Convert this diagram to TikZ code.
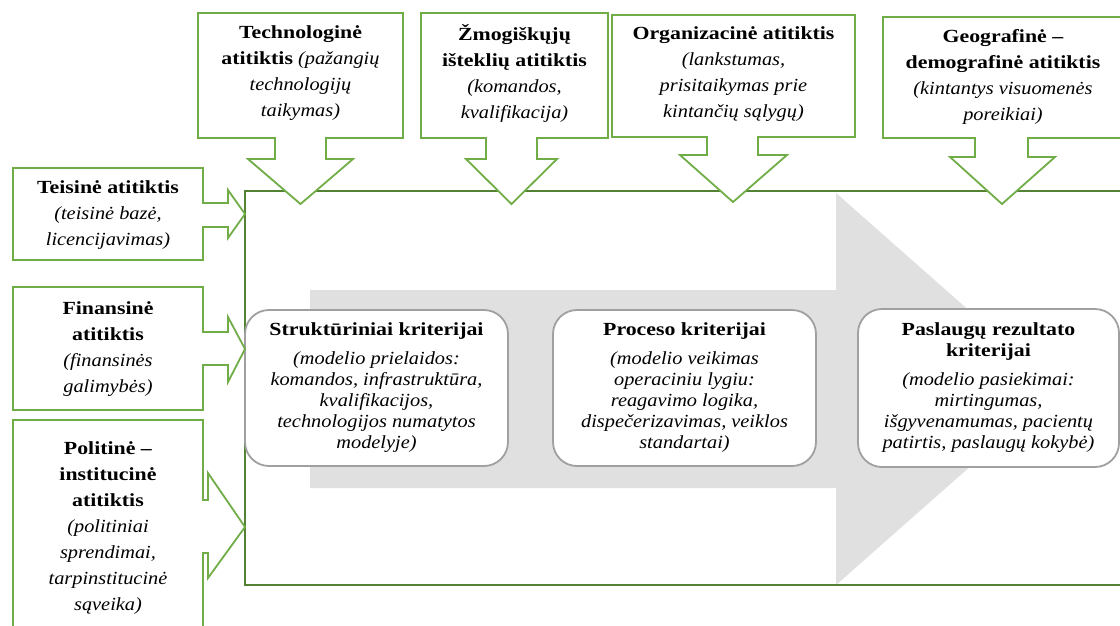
\documentclass[tikz,border=0pt]{standalone}
\usepackage{fontspec}
\setmainfont[FakeStretch=1.1, BoldFeatures={FakeStretch=1.18}]{Liberation Serif}
\definecolor{zalia}{RGB}{112,173,71}
\definecolor{tamsizalia}{RGB}{84,130,53}
\definecolor{pilka}{RGB}{224,224,224}
\definecolor{kontur}{RGB}{160,160,160}
\tikzset{
  isnasa/.style={draw=zalia, line width=1.8pt, fill=white, line join=miter},
  isntekstas/.style={align=center, inner sep=0pt, font=\fontsize{18.5}{26}\selectfont},
  kriterijus/.style={draw=kontur, line width=1.8pt, fill=white, rounded corners=24pt,
    align=center, inner sep=0pt, font=\fontsize{18.5}{21}\selectfont},
}

\begin{document}
\begin{tikzpicture}[x=1pt, y=-1pt]
        \useasboundingbox (0,0) rectangle (1120,625);
        \clip (0,0) rectangle (1120,625);
        % Pilka rodyklė fone
        \fill[pilka] (310,290) -- (836,290) -- (836,193) -- (1058,389) -- (836,585) -- (836,488) -- (310,488) -- cycle;
        % Rėmas
        \draw[tamsizalia, line width=2.2pt] (1130,191) -- (245,191) -- (245,585) -- (1130,585);
        % Kriterijų blokai
        \node[kriterijus, minimum width=263pt, minimum height=156pt] (strukt) at (376.5,388) {\textbf{Struktūriniai kriterijai}\\[8pt] \textit{(modelio prielaidos:}\\ \textit{komandos, infrastruktūra,}\\ \textit{kvalifikacijos,}\\ \textit{technologijos numatytos}\\ \textit{modelyje)}};
        \node[kriterijus, minimum width=263pt, minimum height=156pt] (proc) at (684.5,388) {\textbf{Proceso kriterijai}\\[8pt] \textit{(modelio veikimas}\\ \textit{operaciniu lygiu:}\\ \textit{reagavimo logika,}\\ \textit{dispečerizavimas, veiklos}\\ \textit{standartai)}};
        \node[kriterijus, minimum width=261pt, minimum height=158pt] (rezult) at (988.5,388) {\textbf{Paslaugų rezultato}\\ \textbf{kriterijai}\\[8pt] \textit{(modelio pasiekimai:}\\ \textit{mirtingumas,}\\ \textit{išgyvenamumas, pacientų}\\ \textit{patirtis, paslaugų kokybė)}};
        % Viršutinės išnašos
        \draw[isnasa] (198,13) -- (403,13) -- (403,138) -- (326,138) -- (326,159) -- (353,159) -- (300.5,204) -- (248,159) -- (275,159) -- (275,138) -- (198,138) -- cycle;
        \node[isntekstas] (tech) at (300.5,73) {\textbf{Technologinė}\\ \textbf{atitiktis} \textit{(pažangių}\\ \textit{technologijų}\\ \textit{taikymas)}};
        \draw[isnasa] (421,13) -- (608,13) -- (608,138) -- (537,138) -- (537,159) -- (557,159) -- (511.5,204) -- (466,159) -- (486,159) -- (486,138) -- (421,138) -- cycle;
        \node[isntekstas] (zmog) at (514.5,73) {\textbf{Žmogiškųjų}\\ \textbf{išteklių atitiktis}\\ \textit{(komandos,}\\ \textit{kvalifikacija)}};
        \draw[isnasa] (612,15) -- (855,15) -- (855,137) -- (758,137) -- (758,155) -- (787,155) -- (733,202) -- (680,155) -- (707,155) -- (707,137) -- (612,137) -- cycle;
        \node[isntekstas] (org) at (733.5,74) {\textbf{Organizacinė atitiktis}\\ \textit{(lankstumas,}\\ \textit{prisitaikymas prie}\\ \textit{kintančių sąlygų)}};
        \draw[isnasa] (883,17) -- (1130,17) -- (1130,138) -- (1028,138) -- (1028,157) -- (1055,157) -- (1002,204) -- (950,157) -- (975,157) -- (975,138) -- (883,138) -- cycle;
        \node[isntekstas] (geo) at (1003,77) {\textbf{Geografinė --}\\ \textbf{demografinė atitiktis}\\ \textit{(kintantys visuomenės}\\ \textit{poreikiai)}};
        % Kairiosios išnašos
        \draw[isnasa] (13,168) -- (203,168) -- (203,203) -- (228,203) -- (228,190) -- (245,214) -- (228,238) -- (228,227) -- (203,227) -- (203,260) -- (13,260) -- cycle;
        \node[isntekstas] (teis) at (108,215) {\textbf{Teisinė atitiktis}\\ \textit{(teisinė bazė,}\\ \textit{licencijavimas)}};
        \draw[isnasa] (13,287) -- (203,287) -- (203,332) -- (228,332) -- (228,317) -- (245,349) -- (228,382) -- (228,365) -- (203,365) -- (203,410) -- (13,410) -- cycle;
        \node[isntekstas] (fin) at (108,349) {\textbf{Finansinė}\\ \textbf{atitiktis}\\ \textit{(finansinės}\\ \textit{galimybės)}};
        \draw[isnasa] (13,420) -- (203,420) -- (203,500) -- (208,500) -- (208,473) -- (245,527) -- (208,578) -- (208,553) -- (203,553) -- (203,640) -- (13,640) -- cycle;
        \node[isntekstas] (polit) at (108,528) {\textbf{Politinė --}\\ \textbf{institucinė}\\ \textbf{atitiktis}\\ \textit{(politiniai}\\ \textit{sprendimai,}\\ \textit{tarpinstitucinė}\\ \textit{sąveika)}};
\end{tikzpicture}
\end{document}
